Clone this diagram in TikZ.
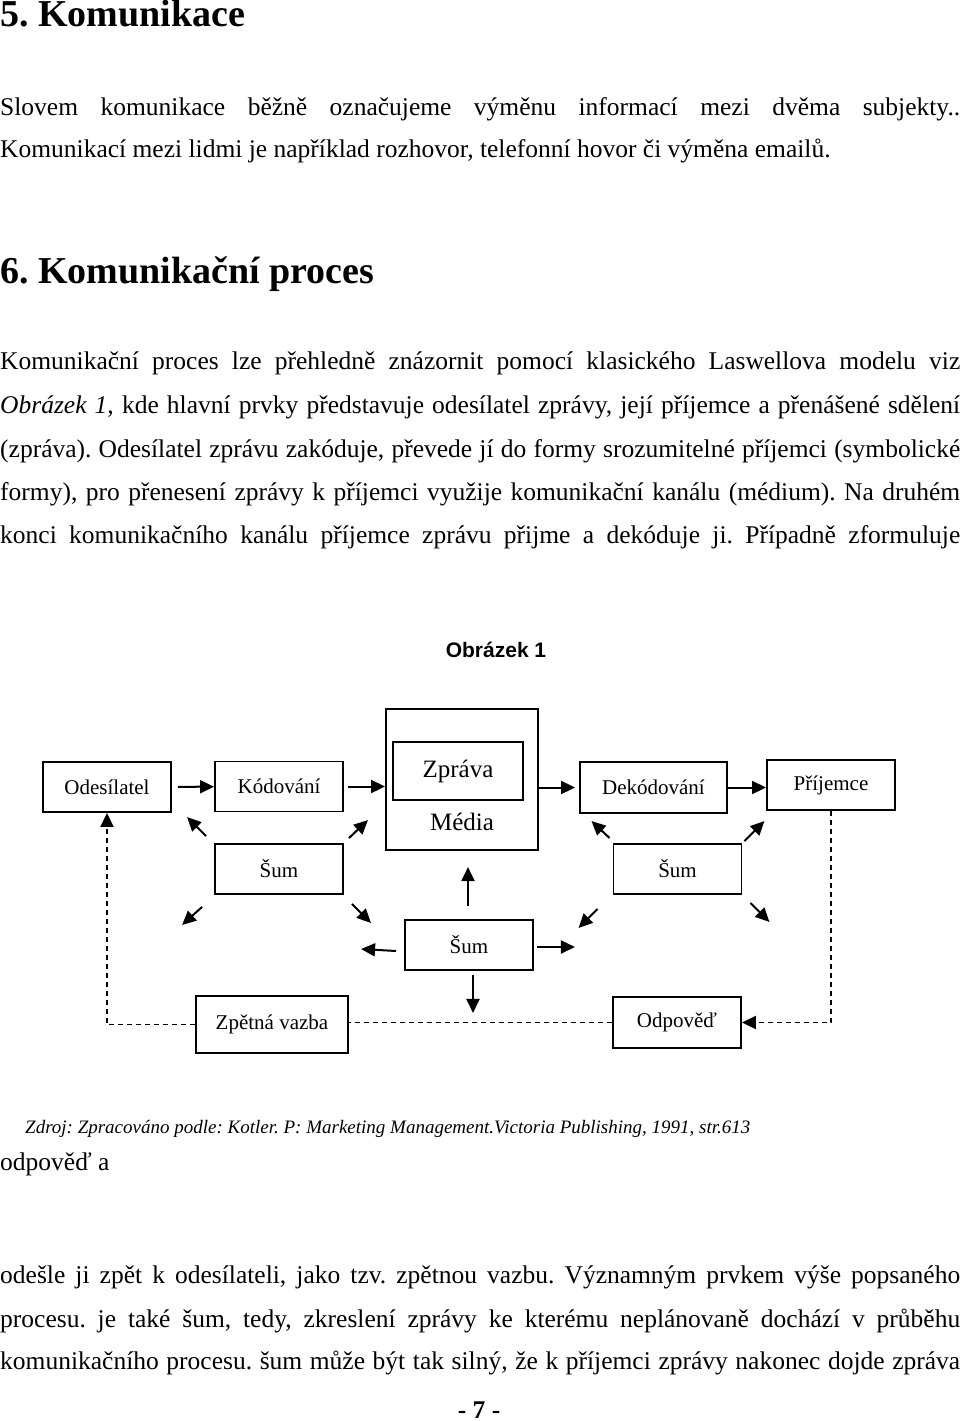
\documentclass[tikz,border=0pt]{standalone}
\usepackage{fontspec}
\setmainfont{Liberation Serif}
\newfontfamily\arialfont{Liberation Sans}
\usetikzlibrary{arrows.meta}
\frenchspacing
\newcommand{\bodysize}{\fontsize{25.5}{30}\selectfont}
\newcommand{\jline}[1]{\makebox[960pt][s]{\bodysize #1}}
\begin{document}
\begin{tikzpicture}[x=1pt,y=-1pt]
	\tikzstyle{every node}+=[inner sep=0pt]
	\tikzstyle{line}=[anchor=base west, font=\bodysize]
	\tikzstyle{box}=[draw=black, line width=1.9pt, minimum width=128pt, minimum height=50pt, font=\fontsize{21}{25}\selectfont]
	\tikzstyle{flow}=[line width=2pt, -{Triangle[length=14pt,width=13pt]}]
	\tikzstyle{back}=[line width=1.9pt, dash pattern=on 5pt off 4pt]
	\useasboundingbox (0,0) rectangle (960,1421);
	\node [line, font=\fontsize{38}{44}\selectfont\bfseries] (h5) at (0,27) {5. Komunikace};
	\node [line] (p1) at (0,115) {\jline{Slovem komunikace běžně označujeme výměnu informací mezi dvěma subjekty..}};
	\node [line] (p2) at (0,157) {Komunikací mezi lidmi je například rozhovor, telefonní hovor či výměna emailů.};
	\node [line, font=\fontsize{38}{44}\selectfont\bfseries] (h6) at (0,283) {6. Komunikační proces};
	\node [line] (p3) at (0,369) {\jline{Komunikační proces lze přehledně znázornit pomocí klasického Laswellova modelu viz}};
	\node [line] (p4) at (0,413) {\jline{\textit{Obrázek 1}, kde hlavní prvky představuje odesílatel zprávy, její příjemce a přenášené sdělení}};
	\node [line] (p5) at (0,457) {\jline{(zpráva). Odesílatel zprávu zakóduje, převede jí do formy srozumitelné příjemci (symbolické}};
	\node [line] (p6) at (0,500) {\jline{formy), pro přenesení zprávy k příjemci využije komunikační kanálu (médium). Na druhém}};
	\node [line] (p7) at (0,543) {\jline{konci komunikačního kanálu příjemce zprávu přijme a dekóduje ji. Případně zformuluje}};
	\node [anchor=base, font=\arialfont\bfseries\fontsize{21}{25}\selectfont] (obr) at (496,657) {Obrázek 1};
	\node [box] (odes) at (107,787) {Odesílatel};
	\node [box] (kod) at (279,786.5) {Kódování};
	\node [box, minimum width=152pt, minimum height=141pt] (medium) at (462,779.5) {};
	\node [box, minimum width=130pt, minimum height=58pt, font=\fontsize{25}{30}\selectfont] (zprava) at (458,771) {Zpráva};
	\node [font=\fontsize{25}{30}\selectfont] (media) at (462,822) {Média};
	\node [box, minimum width=147pt, minimum height=51pt] (dek) at (653.5,787.5) {Dekódování};
	\node [box] (prij) at (831,785) {Příjemce};
	\node [box] (suml) at (279,869) {Šum};
	\node [box] (sumr) at (677.5,869) {Šum};
	\node [box] (sumc) at (469,945) {Šum};
	\node [box, minimum width=152pt, minimum height=57pt] (zpet) at (272,1024.5) {Zpětná vazba};
	\node [box, minimum height=51pt] (odp) at (677,1022.5) {Odpověď};
	\draw [flow, shorten <=6pt] (odes) -- (kod);
	\draw [flow, shorten <=4pt] (kod) -- (kod -| medium.west);
	\draw [flow, shorten >=4pt] (medium.east |- dek) -- (dek);
	\draw [flow] (dek) -- (prij.west |- dek);
	\draw [flow] ([shift={(-8,-7)}]suml.north west) -- ++(-19,-19);
	\draw [flow] ([shift={(5,-5)}]suml.north east) -- ++(19,-18);
	\draw [flow] ([shift={(-12,12)}]suml.south west) -- ++(-20,18);
	\draw [flow] ([shift={(8,9)}]suml.south east) -- ++(19,19);
	\draw [flow] ([shift={(-3,-5)}]sumr.north west) -- ++(-18,-17);
	\draw [flow] ([shift={(2,-2)}]sumr.north east) -- ++(20,-20);
	\draw [flow] ([shift={(-15,14)}]sumr.south west) -- ++(-19,19);
	\draw [flow] ([shift={(8,8)}]sumr.south east) -- ++(19,19);
	\draw [flow] ([shift={(-8,6)}]sumc.west) -- ++(-35,-2);
	\draw [flow] ([shift={(3,2)}]sumc.east) -- ++(38,0);
	\draw [flow] ([shift={(-1,-13)}]sumc.north) -- ++(0,-39);
	\draw [flow] ([shift={(4,4)}]sumc.south) -- ++(0,38);
	\draw [back, -{Triangle[length=14pt,width=13pt]}] (prij.south) |- (odp.east);
	\draw [back] (odp.west) -- (odp.west -| zpet.east);
	\draw [back, -{Triangle[length=14pt,width=13pt]}] (zpet.west) -| (odes.south);
	\node [line, font=\itshape\fontsize{19}{22}\selectfont] (src) at (25,1133) {Zdroj: Zpracováno podle: Kotler. P: Marketing Management.Victoria Publishing, 1991, str.613};
	\node [line] (p8) at (0,1170) {odpověď a};
	\node [line] (p9) at (0,1283) {\jline{odešle ji zpět k odesílateli, jako tzv. zpětnou vazbu. Významným prvkem výše popsaného}};
	\node [line] (p10) at (0,1327) {\jline{procesu. je také šum, tedy, zkreslení zprávy ke kterému neplánovaně dochází v průběhu}};
	\node [line] (p11) at (0,1369) {\jline{komunikačního procesu. šum může být tak silný, že k příjemci zprávy nakonec dojde zpráva}};
	\node [anchor=base, font=\bodysize\bfseries] (pg) at (479,1418) {- 7 -};
\end{tikzpicture}
\end{document}
